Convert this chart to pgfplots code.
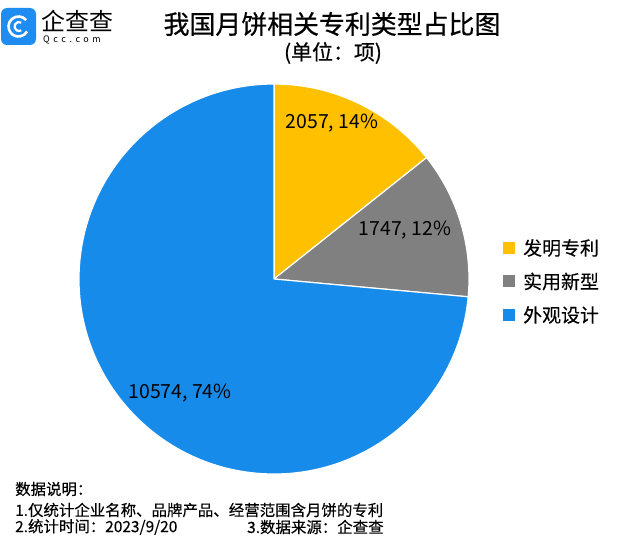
\documentclass[border=0pt]{standalone}
\usepackage{pgfplots}
\pgfplotsset{compat=1.18}
\usepackage{pgfplotstable}
\usepackage{fontspec}
\setmainfont{Noto Sans CJK SC}
\newfontfamily\medfont{Noto Sans CJK SC}[FakeBold=0.6]
\newfontfamily\semifont{Noto Sans CJK SC}[FakeBold=0.3]

\definecolor{cYellow}{HTML}{FFC000}
\definecolor{cGray}{HTML}{808080}
\definecolor{cBlue}{HTML}{178BE9}
\definecolor{cLogo}{HTML}{1E8CF0}

% label, value, colour, label position (pixels)
\pgfplotstableread{
label value col lx ly
发明专利 2057 cYellow 332 123
实用新型 1747 cGray 405 230
外观设计 10574 cBlue 180 393
}\piedata

\newcommand\fs[1]{\fontsize{#1}{#1}\selectfont}

\begin{document}
\begin{tikzpicture}
\useasboundingbox (0,0) rectangle (640bp,540bp);
% total and wedge angles
\def\total{0}
\foreach \i in {0,1,2}{%
  \pgfplotstablegetelem{\i}{value}\of\piedata
  \pgfmathsetmacro\t{\total+\pgfplotsretval}\global\let\total\t}
\gdef\start{90}
\foreach \i in {0,1,2}{%
  \pgfplotstablegetelem{\i}{value}\of\piedata
  \pgfmathsetmacro\e{\start-360*(\pgfplotsretval/\total)}
  \expandafter\xdef\csname sa\i\endcsname{\start}
  \expandafter\xdef\csname ea\i\endcsname{\e}
  \global\let\start\e}
\begin{axis}[
  at={(0,0)}, anchor=south west,
  scale only axis, width=640bp, height=540bp,
  xmin=0, xmax=640, ymin=-540, ymax=0,
  hide axis, clip=false]
  \pgfplotsinvokeforeach{0,1,2}{%
    \pgfplotstablegetelem{#1}{col}\of\piedata \let\c\pgfplotsretval
    \pgfplotstablegetelem{#1}{label}\of\piedata \let\lab\pgfplotsretval
    \pgfplotstablegetelem{#1}{value}\of\piedata \let\val\pgfplotsretval
    \pgfplotstablegetelem{#1}{lx}\of\piedata \let\lx\pgfplotsretval
    \pgfplotstablegetelem{#1}{ly}\of\piedata \let\ly\pgfplotsretval
    \pgfmathtruncatemacro\pct{round(100*(\val/\total))}
    \edef\cmd{%
      \noexpand\fill[\c, draw=white, line width=1.2bp, line join=round]
        (axis cs:274,-279) -- ++(\csname sa#1\endcsname:195bp)
        arc[start angle=\csname sa#1\endcsname, end angle=\csname ea#1\endcsname, radius=195bp] -- cycle;
      \noexpand\fill[\c] (axis cs:503,{-242-33.5*#1}) rectangle (axis cs:515,{-254-33.5*#1});
      \noexpand\node[anchor=west, inner sep=0pt, font=\noexpand\fs{19}\noexpand\semifont] at (axis cs:523,{-248-33.5*#1}) {\lab};
    }\cmd
    \edef\cmd{%
      \noexpand\node[inner sep=0pt, font=\noexpand\fs{19.5}] at (axis cs:\lx,-\ly) {\val, \pct\noexpand\%};
    }\cmd
  }
  % title
  \node[font=\fs{26}\medfont] at (axis cs:332,-24) {我国月饼相关专利类型占比图};
  \node[font=\fs{21}\medfont] at (axis cs:333,-53) {(单位：项)};
  % logo
  \fill[cLogo, rounded corners=6bp] (axis cs:1,-8) rectangle (axis cs:36,-45);
  \draw[white, line width=2.6bp] (axis cs:18.5,-26.5) ++(40:10bp) arc[start angle=40, end angle=330, radius=10bp];
  \draw[white, line width=2.2bp] (axis cs:19,-26.5) ++(60:4.5bp) arc[start angle=60, end angle=300, radius=4.5bp];
  \node[anchor=west, inner sep=0pt, font=\fs{24}] at (axis cs:41,-21) {企查查};
  \node[anchor=west, inner sep=0pt, font=\fs{9}\addfontfeature{LetterSpace=40}] at (axis cs:43,-40) {Qcc.com};
  % notes
  \node[anchor=west, inner sep=0pt, font=\fs{15.5}\semifont] at (axis cs:15,-489) {数据说明：};
  \node[anchor=west, inner sep=0pt, font=\fs{15.5}\semifont] at (axis cs:15,-510) {1.仅统计企业名称、品牌产品、经营范围含月饼的专利};
  \node[anchor=west, inner sep=0pt, font=\fs{15.5}\semifont] at (axis cs:15,-527) {2.统计时间：2023/9/20};
  \node[anchor=west, inner sep=0pt, font=\fs{15.5}\semifont] at (axis cs:247,-527) {3.数据来源：企查查};
\end{axis}
\end{tikzpicture}
\end{document}
